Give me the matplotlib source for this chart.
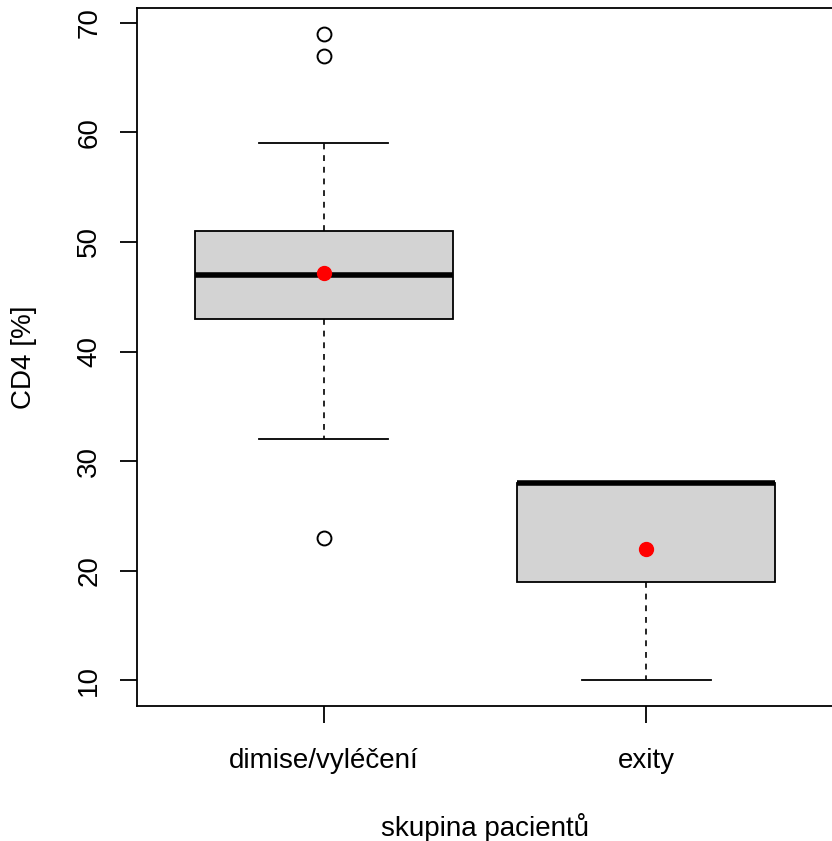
import matplotlib
matplotlib.use("Agg")
import matplotlib.pyplot as plt

plt.rcParams['font.family'] = ['Liberation Sans', 'DejaVu Sans']

categories = ["dimise/vyléčení", "exity"]
whisker_low = [32, 10]
q1 = [43, 19]
medians = [47, 28]
q3 = [51, 28]
whisker_high = [59, 28]
outliers = [[23, 67, 69], []]
means = [47.2, 22.0]
yticks = [10, 20, 30, 40, 50, 60, 70]

fig = plt.figure(figsize=(8.32, 8.41), dpi=100)
W, H = 832, 841
ax = fig.add_axes([137 / W, (H - 706) / H, (833 - 137) / W, (706 - 8) / H])

stats = []
for i, c in enumerate(categories):
    stats.append(dict(label=c, whislo=whisker_low[i], q1=q1[i], med=medians[i],
                      q3=q3[i], whishi=whisker_high[i], fliers=outliers[i]))

positions = list(range(1, len(categories) + 1))
ax.bxp(stats, positions=positions, widths=0.8, patch_artist=True, showfliers=True,
       boxprops=dict(facecolor='#d3d3d3', edgecolor='black', linewidth=1.3),
       medianprops=dict(color='black', linewidth=4, solid_capstyle='butt'),
       whiskerprops=dict(color='black', linewidth=1.2, linestyle=(0, (3.5, 3.5))),
       capprops=dict(color='black', linewidth=1.3),
       capwidths=0.4,
       flierprops=dict(marker='o', markerfacecolor='none', markeredgecolor='black',
                       markersize=10, markeredgewidth=1.4))
ax.plot(positions, means, 'o', color='red', markersize=10, zorder=5)

ax.set_xlim(0.42, 2.58)
ax.set_ylim(7.64, 71.36)
ax.set_yticks(yticks)
ax.set_yticklabels([str(v) for v in yticks], rotation=90, va='center')
ax.set_xticks(positions)
ax.set_xticklabels(categories)
ax.tick_params(axis='both', direction='out', length=12, width=1.3, labelsize=20, pad=13)
ax.tick_params(axis='x', pad=18)
for s in ax.spines.values():
    s.set_linewidth(1.3)
ax.set_xlabel("skupina pacientů", fontsize=20, labelpad=28)
ax.set_ylabel("CD4 [%]", fontsize=20, labelpad=28)

fig.savefig("out.png", dpi=100)
